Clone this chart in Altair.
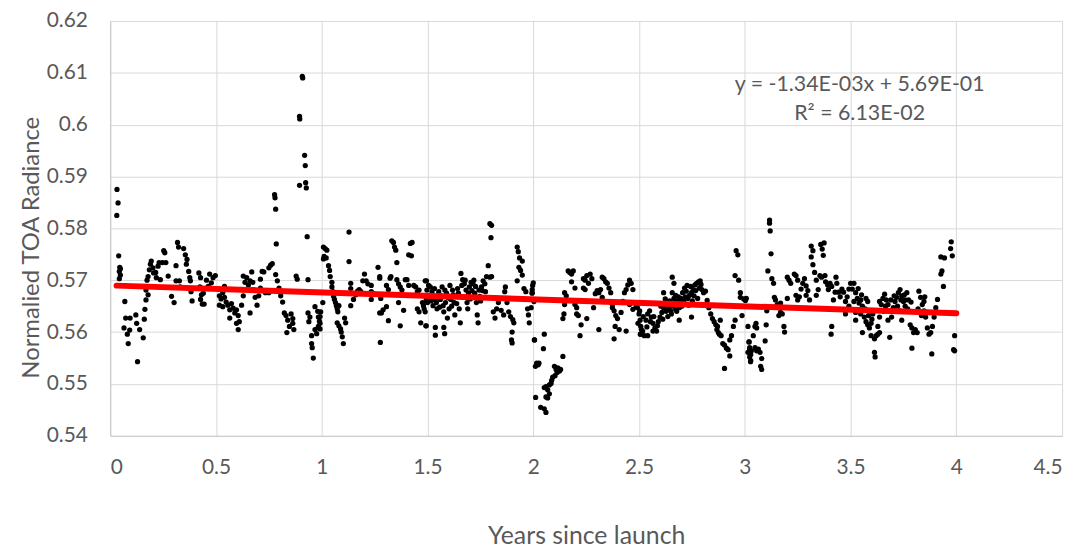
import altair as alt
import pandas as pd

# ---- data (years since launch, normalised TOA radiance) ----
seg_a = [(0.032,0.5875),(0.037,0.5849),(0.031,0.5825),(0.040,0.5747),(0.045,0.5725),(0.048,0.5722),
 (0.043,0.5717),(0.048,0.5710),(0.043,0.5703),(0.069,0.5659),(0.073,0.5627),(0.094,0.5627),(0.121,0.5633),
 (0.125,0.5617),(0.065,0.5608),(0.092,0.5604),(0.081,0.5596),(0.085,0.5578),(0.139,0.5605),(0.156,0.5589),
 (0.129,0.5543),(0.161,0.5625),(0.164,0.5644),(0.169,0.5662),(0.179,0.5672),(0.169,0.5681),(0.174,0.5700),
 (0.179,0.5707),(0.185,0.5720),(0.190,0.5731),(0.194,0.5737),(0.202,0.5724),(0.205,0.5714),(0.218,0.5705),
 (0.215,0.5715),(0.226,0.5727),(0.231,0.5734),(0.237,0.5701),(0.247,0.5734),(0.253,0.5757),(0.258,0.5753),
 (0.263,0.5734),(0.274,0.5708),(0.290,0.5669),(0.302,0.5657),(0.311,0.5699),(0.311,0.5728),(0.318,0.5773),
 (0.323,0.5764),(0.327,0.5699),(0.331,0.5687),(0.347,0.5761),(0.355,0.5749),(0.363,0.5740),(0.360,0.5731),
 (0.371,0.5717),(0.376,0.5705),(0.379,0.5699),(0.382,0.5678),(0.387,0.5660),(0.419,0.5714),(0.427,0.5705),
 (0.424,0.5687),(0.431,0.5672),(0.440,0.5675),(0.427,0.5663),(0.435,0.5654),(0.444,0.5654),(0.455,0.5700),
 (0.463,0.5688),(0.470,0.5712),(0.478,0.5695),(0.486,0.5705)]

seg_b = [(0.497,0.5709),(0.540,0.5688),(0.532,0.5676),(0.516,0.5670),(0.524,0.5664),(0.540,0.5667),
 (0.548,0.5658),(0.516,0.5652),(0.532,0.5649),(0.556,0.5652),(0.565,0.5643),(0.573,0.5655),(0.581,0.5646),
 (0.589,0.5637),(0.597,0.5643),(0.565,0.5627),(0.605,0.5632),(0.610,0.5620),(0.597,0.5617),(0.605,0.5605),
 (0.621,0.5652),(0.629,0.5670),(0.626,0.5682),(0.637,0.5696),(0.629,0.5708),(0.645,0.5705),(0.653,0.5691),
 (0.661,0.5699),(0.669,0.5716),(0.674,0.5696),(0.661,0.5637),(0.677,0.5682),(0.685,0.5667),(0.694,0.5652),
 (0.702,0.5670),(0.710,0.5685),(0.710,0.5702),(0.718,0.5717),(0.726,0.5716),(0.734,0.5676),(0.750,0.5676),
 (0.750,0.5724),(0.758,0.5729),(0.766,0.5732),(0.782,0.5711),(0.790,0.5699),(0.798,0.5685),(0.806,0.5670),
 (0.815,0.5658),(0.823,0.5637),(0.831,0.5632),(0.839,0.5623),(0.847,0.5611),(0.835,0.5599),(0.855,0.5635),
 (0.863,0.5626),(0.868,0.5605),(0.863,0.5617),(0.777,0.5865),(0.779,0.5859),(0.782,0.5837),(0.785,0.5770),
 (0.879,0.5708),(0.884,0.5702),(0.935,0.5701),(0.895,0.5883),(0.924,0.5888),(0.927,0.5878),(0.919,0.5941),
 (0.922,0.5921),(0.931,0.5784),(0.908,0.6093),(0.910,0.6090),(0.895,0.6016),(0.896,0.6011),(0.935,0.5637),
 (0.944,0.5629),(0.939,0.5620),(0.952,0.5593),(0.952,0.5578),(0.955,0.5570),(0.960,0.5550),(0.968,0.5649),
 (0.981,0.5640),(0.984,0.5629),(0.992,0.5617),(0.968,0.5605),(0.984,0.5611)]

seg_c = [(0.976,0.5597),(0.984,0.5609),(0.989,0.5621),(0.992,0.5630),(0.995,0.5639),(0.992,0.5606),
 (1.005,0.5657),(1.008,0.5764),(1.016,0.5761),(1.024,0.5758),(1.011,0.5746),(1.021,0.5743),(1.008,0.5741),
 (1.032,0.5728),(1.037,0.5719),(1.040,0.5707),(1.048,0.5696),(1.048,0.5687),(1.053,0.5678),(1.056,0.5669),
 (1.060,0.5663),(1.065,0.5657),(1.069,0.5651),(1.073,0.5645),(1.076,0.5639),(1.081,0.5651),(1.073,0.5618),
 (1.081,0.5612),(1.089,0.5606),(1.092,0.5600),(1.097,0.5591),(1.102,0.5578),(1.108,0.5627),(1.113,0.5618),
 (1.129,0.5793),(1.129,0.5736),(1.137,0.5694),(1.137,0.5684),(1.137,0.5651),(1.150,0.5663),(1.161,0.5672),
 (1.169,0.5679),(1.177,0.5682),(1.185,0.5678),(1.194,0.5699),(1.202,0.5712),(1.210,0.5699),(1.218,0.5693),
 (1.234,0.5690),(1.234,0.5678),(1.234,0.5663),(1.242,0.5675),(1.266,0.5725),(1.274,0.5707),(1.274,0.5704),
 (1.279,0.5665),(1.290,0.5643),(1.282,0.5637),(1.274,0.5637),(1.315,0.5622),(1.306,0.5649),(1.315,0.5682),
 (1.323,0.5704),(1.327,0.5707),(1.306,0.5690),(1.277,0.5580),(1.331,0.5776),(1.339,0.5773),(1.344,0.5764),
 (1.350,0.5758),(1.355,0.5734),(1.355,0.5701),(1.363,0.5693),(1.371,0.5687),(1.379,0.5681),(1.363,0.5657),
 (1.371,0.5612),(1.387,0.5642),(1.395,0.5701),(1.403,0.5701),(1.411,0.5690),(1.419,0.5771),(1.427,0.5773),
 (1.411,0.5749),(1.424,0.5747),(1.435,0.5690),(1.444,0.5687),(1.452,0.5678),(1.460,0.5681),(1.452,0.5645),
 (1.460,0.5639),(1.468,0.5618),(1.476,0.5657),(1.484,0.5645),(1.492,0.5612),(1.495,0.5699)]

seg_d = [(1.489,0.5699),(1.497,0.5681),(1.494,0.5663),(1.505,0.5669),(1.500,0.5657),(1.513,0.5687),
 (1.521,0.5678),(1.529,0.5663),(1.526,0.5651),(1.537,0.5669),(1.542,0.5657),(1.545,0.5645),(1.553,0.5678),
 (1.561,0.5663),(1.569,0.5687),(1.574,0.5651),(1.577,0.5639),(1.585,0.5657),(1.590,0.5675),(1.594,0.5627),
 (1.602,0.5645),(1.610,0.5663),(1.618,0.5681),(1.626,0.5657),(1.629,0.5633),(1.634,0.5669),(1.642,0.5684),
 (1.650,0.5645),(1.655,0.5618),(1.658,0.5713),(1.666,0.5701),(1.674,0.5693),(1.682,0.5681),(1.687,0.5657),
 (1.690,0.5645),(1.698,0.5687),(1.706,0.5696),(1.715,0.5693),(1.723,0.5675),(1.731,0.5657),(1.735,0.5633),
 (1.739,0.5618),(1.747,0.5669),(1.755,0.5687),(1.763,0.5699),(1.771,0.5693),(1.774,0.5678),(1.779,0.5707),
 (1.787,0.5728),(1.795,0.5706),(1.803,0.5707),(1.795,0.5809),(1.803,0.5806),(1.800,0.5782),(1.811,0.5639),
 (1.819,0.5627),(1.827,0.5645),(1.835,0.5657),(1.848,0.5642),(1.860,0.5633),(1.865,0.5678),(1.868,0.5687),
 (1.876,0.5657),(1.884,0.5639),(1.892,0.5630),(1.903,0.5624),(1.908,0.5618),(1.900,0.5600),(1.897,0.5585),
 (1.900,0.5579),(1.924,0.5764),(1.929,0.5755),(1.935,0.5743),(1.948,0.5737),(1.932,0.5725),(1.940,0.5719),
 (1.948,0.5710),(1.924,0.5699),(1.956,0.5684),(1.965,0.5678),(1.973,0.5645),(1.977,0.5633),(1.981,0.5618),
 (1.997,0.5690),(1.994,0.5675),(2.005,0.5585),(2.010,0.5534),(1.481,0.5651),(1.489,0.5639),(1.494,0.5612),
 (1.537,0.5609),(1.537,0.5594),(1.577,0.5609),(1.581,0.5597),(1.505,0.5690),(1.517,0.5660),(1.533,0.5684),
 (1.549,0.5666),(1.557,0.5648),(1.565,0.5670),(1.582,0.5681),(1.598,0.5666),(1.606,0.5690),(1.614,0.5650),
 (1.622,0.5672),(1.638,0.5655),(1.646,0.5675),(1.662,0.5690),(1.670,0.5668),(1.678,0.5700),(1.694,0.5675),
 (1.702,0.5664),(1.710,0.5680),(1.719,0.5700),(1.727,0.5688),(1.743,0.5681),(1.751,0.5660),(1.759,0.5680)]

seg_e = [(2.000,0.5695),(1.995,0.5682),(2.003,0.5659),(1.990,0.5647),(1.995,0.5676),(2.052,0.5596),
 (2.006,0.5585),(2.048,0.5568),(2.140,0.5553),(2.016,0.5540),(2.027,0.5540),(2.023,0.5537),(2.100,0.5534),
 (2.108,0.5528),(2.116,0.5531),(2.124,0.5525),(2.129,0.5528),(2.113,0.5522),(2.103,0.5516),(2.092,0.5513),
 (2.087,0.5507),(2.084,0.5501),(2.076,0.5498),(2.060,0.5495),(2.052,0.5493),(2.068,0.5489),(2.076,0.5481),
 (2.011,0.5474),(2.060,0.5475),(2.068,0.5473),(2.035,0.5455),(2.052,0.5452),(2.060,0.5445),(2.148,0.5676),
 (2.156,0.5670),(2.148,0.5653),(2.145,0.5635),(2.140,0.5626),(2.165,0.5718),(2.173,0.5715),(2.181,0.5712),
 (2.189,0.5718),(2.181,0.5697),(2.197,0.5685),(2.197,0.5653),(2.205,0.5647),(2.205,0.5635),(2.213,0.5632),
 (2.226,0.5614),(2.253,0.5626),(2.221,0.5593),(2.237,0.5703),(2.245,0.5700),(2.253,0.5709),(2.261,0.5694),
 (2.269,0.5712),(2.277,0.5703),(2.245,0.5682),(2.237,0.5685),(2.285,0.5647),(2.293,0.5674),(2.302,0.5680),
 (2.310,0.5676),(2.318,0.5682),(2.326,0.5706),(2.334,0.5703),(2.342,0.5697),(2.350,0.5694),(2.358,0.5685),
 (2.366,0.5676),(2.326,0.5667),(2.310,0.5605),(2.334,0.5659),(2.374,0.5653),(2.382,0.5641),(2.390,0.5632),
 (2.398,0.5626),(2.387,0.5611),(2.382,0.5587),(2.406,0.5605),(2.374,0.5647),(2.415,0.5638),(2.423,0.5659),
 (2.431,0.5676),(2.439,0.5682),(2.447,0.5691),(2.455,0.5700),(2.463,0.5694),(2.471,0.5682),(2.439,0.5602),
 (2.455,0.5653),(2.471,0.5644),(2.487,0.5650),(2.503,0.5641),(2.495,0.5617),(2.511,0.5605),(2.506,0.5596)]

seg_f = [(2.492,0.5647),(2.500,0.5635),(2.505,0.5623),(2.508,0.5611),(2.517,0.5602),(2.525,0.5593),
 (2.508,0.5596),(2.533,0.5623),(2.541,0.5635),(2.550,0.5641),(2.558,0.5629),(2.566,0.5617),(2.575,0.5608),
 (2.583,0.5602),(2.566,0.5602),(2.541,0.5593),(2.591,0.5620),(2.599,0.5629),(2.608,0.5638),(2.616,0.5647),
 (2.624,0.5653),(2.632,0.5659),(2.640,0.5647),(2.649,0.5641),(2.657,0.5656),(2.665,0.5665),(2.673,0.5671),
 (2.682,0.5659),(2.690,0.5647),(2.698,0.5665),(2.706,0.5676),(2.715,0.5685),(2.723,0.5679),(2.731,0.5665),
 (2.739,0.5671),(2.748,0.5676),(2.756,0.5682),(2.764,0.5691),(2.772,0.5694),(2.781,0.5697),(2.789,0.5699),
 (2.797,0.5682),(2.805,0.5676),(2.814,0.5679),(2.822,0.5661),(2.830,0.5647),(2.616,0.5676),(2.624,0.5664),
 (2.657,0.5706),(2.665,0.5694),(2.657,0.5676),(2.673,0.5643),(2.690,0.5623),(2.748,0.5629),(2.839,0.5635),
 (2.847,0.5626),(2.855,0.5620),(2.863,0.5614),(2.868,0.5605),(2.875,0.5599),(2.880,0.5596),(2.888,0.5593),
 (2.871,0.5611),(2.884,0.5623),(2.896,0.5578),(2.904,0.5575),(2.913,0.5569),(2.921,0.5566),(2.929,0.5554),
 (2.904,0.5530),(2.937,0.5593),(2.946,0.5611),(2.954,0.5623),(2.929,0.5585),(2.959,0.5757),(2.967,0.5749),
 (2.954,0.5709),(2.971,0.5700),(2.979,0.5676),(2.979,0.5667),(2.995,0.5664),(3.003,0.5661),(2.987,0.5632),
 (3.020,0.5581),(3.023,0.5566),(3.028,0.5557),(3.028,0.5545),(2.520,0.5630),(2.537,0.5610),(2.554,0.5620),
 (2.570,0.5630),(2.587,0.5612),(2.603,0.5650),(2.612,0.5625),(2.628,0.5640),(2.636,0.5630),(2.645,0.5660),
 (2.653,0.5635),(2.661,0.5650),(2.669,0.5655),(2.678,0.5640),(2.686,0.5668),(2.694,0.5655),(2.702,0.5650),
 (2.711,0.5660),(2.719,0.5668),(2.727,0.5690),(2.735,0.5652),(2.744,0.5688),(2.752,0.5660),(2.760,0.5670),
 (2.768,0.5680),(2.777,0.5665),(2.785,0.5685),(2.793,0.5692)]

seg_g = [(3.007,0.5665),(3.015,0.5611),(3.020,0.5581),(3.023,0.5570),(3.031,0.5564),(3.015,0.5561),
 (3.023,0.5552),(3.027,0.5543),(3.040,0.5593),(3.048,0.5611),(3.053,0.5617),(3.056,0.5608),(3.048,0.5570),
 (3.056,0.5564),(3.064,0.5567),(3.072,0.5561),(3.080,0.5549),(3.075,0.5534),(3.080,0.5528),(3.096,0.5583),
 (3.101,0.5614),(3.104,0.5641),(3.109,0.5718),(3.117,0.5816),(3.117,0.5810),(3.120,0.5795),(3.124,0.5751),
 (3.128,0.5703),(3.136,0.5694),(3.140,0.5667),(3.145,0.5662),(3.153,0.5653),(3.161,0.5647),(3.169,0.5638),
 (3.177,0.5635),(3.161,0.5632),(3.185,0.5611),(3.188,0.5600),(3.201,0.5665),(3.169,0.5656),(3.201,0.5706),
 (3.209,0.5700),(3.217,0.5694),(3.234,0.5712),(3.242,0.5709),(3.250,0.5700),(3.242,0.5671),(3.250,0.5662),
 (3.258,0.5668),(3.266,0.5683),(3.274,0.5694),(3.282,0.5703),(3.290,0.5689),(3.298,0.5680),(3.306,0.5662),
 (3.290,0.5671),(3.314,0.5766),(3.322,0.5757),(3.314,0.5745),(3.322,0.5730),(3.330,0.5715),(3.338,0.5700),
 (3.347,0.5682),(3.338,0.5671),(3.359,0.5769),(3.366,0.5760),(3.375,0.5772),(3.371,0.5748),(3.355,0.5709),
 (3.363,0.5706),(3.379,0.5709),(3.382,0.5697),(3.392,0.5691),(3.395,0.5682),(3.403,0.5694),(3.411,0.5688),
 (3.419,0.5662),(3.427,0.5677),(3.431,0.5706),(3.411,0.5611),(3.408,0.5596),(3.435,0.5694),(3.443,0.5677),
 (3.451,0.5668),(3.459,0.5683),(3.467,0.5677),(3.476,0.5659),(3.484,0.5668),(3.492,0.5683),(3.500,0.5694),
 (3.508,0.5683),(3.476,0.5635),(3.492,0.5650),(3.516,0.5659),(3.524,0.5623),(3.524,0.5638)]

seg_h = [(3.516,0.5694),(3.524,0.5676),(3.532,0.5665),(3.540,0.5656),(3.548,0.5662),(3.556,0.5650),
 (3.548,0.5635),(3.565,0.5629),(3.573,0.5620),(3.581,0.5614),(3.589,0.5608),(3.597,0.5617),(3.605,0.5635),
 (3.573,0.5665),(3.581,0.5659),(3.556,0.5599),(3.597,0.5593),(3.613,0.5587),(3.621,0.5593),(3.629,0.5596),
 (3.637,0.5599),(3.629,0.5611),(3.637,0.5629),(3.645,0.5653),(3.637,0.5659),(3.653,0.5665),(3.661,0.5673),
 (3.669,0.5662),(3.677,0.5653),(3.685,0.5641),(3.694,0.5629),(3.677,0.5623),(3.685,0.5590),(3.702,0.5647),
 (3.710,0.5659),(3.718,0.5667),(3.726,0.5676),(3.734,0.5682),(3.742,0.5670),(3.750,0.5659),(3.758,0.5650),
 (3.766,0.5676),(3.758,0.5662),(3.774,0.5662),(3.734,0.5641),(3.742,0.5623),(3.782,0.5614),(3.790,0.5608),
 (3.798,0.5599),(3.806,0.5605),(3.815,0.5599),(3.790,0.5569),(3.823,0.5679),(3.831,0.5667),(3.839,0.5653),
 (3.847,0.5641),(3.855,0.5629),(3.847,0.5659),(3.863,0.5608),(3.871,0.5596),(3.879,0.5599),(3.887,0.5611),
 (3.895,0.5629),(3.903,0.5647),(3.911,0.5663),(3.884,0.5558),(3.927,0.5712),(3.932,0.5718),(3.939,0.5688),
 (3.927,0.5745),(3.944,0.5743),(3.976,0.5774),(3.973,0.5761),(3.981,0.5747),(3.992,0.5593),(3.987,0.5566),
 (3.992,0.5564),(3.613,0.5561),(3.616,0.5552),(3.536,0.5684),(3.552,0.5672),(3.569,0.5645),(3.585,0.5632),
 (3.601,0.5625),(3.657,0.5640),(3.665,0.5650),(3.690,0.5662),(3.706,0.5670),(3.722,0.5650),(3.738,0.5662),
 (3.754,0.5672),(3.770,0.5645),(3.786,0.5658),(3.819,0.5645),(3.835,0.5632),(3.851,0.5668)]

# trendline as printed on the chart
slope = -1.34e-3
intercept = 5.69e-1
trend_years = [0.03, 4.0]

eq_text = ["y = -1.34E-03x + 5.69E-01", "R\u00b2 = 6.13E-02"]
eq_years = [3.543, 3.543]
eq_rad = [0.6076, 0.6021]

x_ticks = [0, 0.5, 1, 1.5, 2, 2.5, 3, 3.5, 4, 4.5]
y_ticks = [0.54, 0.55, 0.56, 0.57, 0.58, 0.59, 0.60, 0.61, 0.62]

points = pd.DataFrame(seg_a + seg_b + seg_c + seg_d + seg_e + seg_f + seg_g + seg_h,
                      columns=["years", "radiance"])
trend = pd.DataFrame({"years": trend_years,
                      "radiance": [slope * t + intercept for t in trend_years]})
eq = pd.DataFrame({"years": eq_years, "radiance": eq_rad, "text": eq_text})

FONT = "Lato"
GRAY = "#595959"

xscale = alt.Scale(domain=[0, 4.5], nice=False, zero=False)
yscale = alt.Scale(domain=[0.54, 0.62], nice=False, zero=False)

xaxis = alt.Axis(values=x_ticks, format=".1~f", title="Years since launch",
                 labelPadding=21, titleY=100, titleBaseline="middle", titleFontSize=25)
yaxis = alt.Axis(values=y_ticks, format=".2~f", title="Normalied TOA Radiance",
                 labelPadding=23, titleX=-79, titleY=228, titleAngle=270,
                 titleBaseline="middle", titleAlign="center")

pts = alt.Chart(points).mark_circle(size=28, color="black", opacity=1).encode(
    x=alt.X("years:Q", scale=xscale, axis=xaxis),
    y=alt.Y("radiance:Q", scale=yscale, axis=yaxis),
)

line = alt.Chart(trend).mark_line(color="#ff0000", strokeWidth=6, strokeCap="round").encode(
    x=alt.X("years:Q", scale=xscale),
    y=alt.Y("radiance:Q", scale=yscale),
)

txt = alt.Chart(eq).mark_text(font=FONT, fontSize=21.5, color=GRAY, align="center",
                              baseline="middle").encode(
    x=alt.X("years:Q", scale=xscale),
    y=alt.Y("radiance:Q", scale=yscale),
    text="text:N",
)

chart = alt.layer(pts, line, txt).properties(
    width=959, height=418,
    autosize=alt.AutoSizeParams(type="none"),
    padding={"left": 103, "top": 11, "right": 12, "bottom": 112},
).configure_view(stroke=None).configure_axis(
    grid=True, gridColor="#d9d9d9", gridWidth=1,
    domainColor="#c8c8c8", domainWidth=1, ticks=False,
    labelFont=FONT, labelFontSize=21, labelColor=GRAY,
    titleFont=FONT, titleFontSize=24, titleColor=GRAY, titleFontWeight="normal",
)

chart.save("out.html", embed_options={"renderer": "svg", "actions": False})
